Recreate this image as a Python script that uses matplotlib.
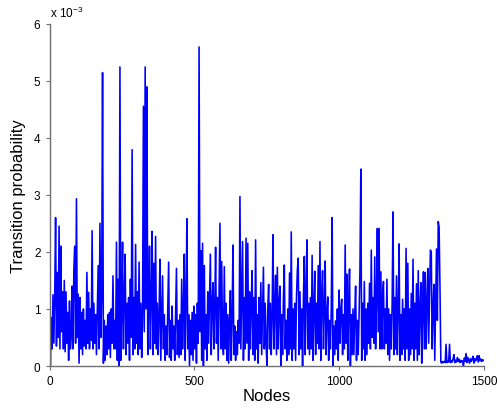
import numpy as np
import matplotlib
matplotlib.use('Agg')
import matplotlib.pyplot as plt

# transition probability per node, in units of 1e-3, read every 3rd node
prob_a = [  # nodes 0 - 447
    1.73, 0.0, 0.85, 0.3, 1.25, 0.4, 1.2, 2.6, 0.35, 1.64, 0.5, 2.45, 0.3, 2.1, 0.6, 1.3, 0.3, 1.5, 0.25, 1.3, 0.4, 0.94, 0.1, 1.14, 0.3,
    0.5, 1.4, 0.3, 1.7, 2.1, 0.4, 2.93, 0.5, 1.26, 0.05, 1.2, 0.3, 0.94, 0.2, 1.0, 0.35, 0.8, 0.3, 1.64, 0.4, 1.29, 0.3, 1.0, 0.45, 2.37,
    0.3, 1.1, 0.4, 0.9, 0.2, 1.0, 1.76, 0.3, 2.5, 0.5, 1.2, 5.14, 0.05, 0.8, 0.1, 0.7, 0.2, 0.9, 0.3, 0.94, 0.15, 1.0, 0.4, 1.58, 0.3,
    0.8, 0.3, 2.17, 0.1, 1.52, 0.0, 5.24, 0.1, 0.9, 2.17, 0.3, 1.2, 1.96, 0.2, 1.1, 0.4, 1.2, 0.1, 1.52, 0.5, 3.79, 0.2, 1.2, 0.3, 2.13,
    0.4, 1.3, 0.2, 1.82, 0.3, 1.1, 0.15, 0.9, 4.55, 0.6, 5.24, 1.0, 4.89, 0.2, 1.0, 2.1, 0.3, 1.2, 2.36, 0.2, 1.8, 0.4, 2.27, 0.3, 1.1,
    0.2, 0.9, 1.87, 0.1, 0.8, 1.58, 0.3, 0.9, 0.1, 0.7, 0.2, 1.0, 1.82, 0.15, 0.8, 0.1, 1.05, 0.3, 0.7, 0.1, 0.9, 1.71, 0.2, 0.8, 0.15,
]
prob_b = [  # nodes 450 - 897
    0.9, 0.2, 1.52, 0.3, 1.0, 1.96, 0.1, 1.1, 2.58, 0.3, 0.9, 0.0, 0.8, 0.2, 0.94, 0.1, 1.05, 0.3, 0.9, 0.05, 1.1, 0.4, 5.59, 0.6, 2.02,
    0.1, 2.15, 0.0, 1.76, 0.3, 0.9, 0.1, 1.3, 0.4, 1.2, 1.96, 0.2, 1.1, 1.46, 0.3, 1.0, 2.08, 0.4, 1.2, 0.1, 1.3, 2.5, 0.3, 1.83, 0.5,
    0.2, 1.74, 0.3, 1.1, 0.1, 0.9, 0.05, 0.8, 1.32, 0.1, 0.9, 2.12, 0.2, 0.7, 0.1, 0.6, 0.2, 0.8, 0.4, 2.97, 0.3, 1.3, 2.18, 0.1, 1.2,
    0.3, 2.24, 0.4, 2.15, 0.1, 1.3, 0.3, 1.1, 1.67, 0.2, 1.2, 0.1, 2.21, 0.3, 0.9, 0.05, 1.2, 0.4, 1.46, 0.2, 1.0, 1.73, 0.3, 1.1, 0.4,
    0.0, 1.0, 1.43, 0.3, 1.1, 0.2, 0.9, 2.3, 0.3, 1.0, 1.59, 0.2, 1.73, 0.3, 1.1, 1.4, 0.0, 0.9, 0.2, 1.2, 1.77, 0.3, 0.8, 0.1, 1.0,
    0.2, 1.63, 0.3, 2.35, 0.1, 1.0, 0.3, 1.1, 0.1, 1.2, 1.68, 1.89, 0.2, 1.3, 0.3, 1.0, 0.0, 1.2, 1.92, 0.2, 1.3, 2.21, 0.3, 1.1, 0.2,
]
prob_c = [  # nodes 900 - 1347
    1.2, 0.3, 1.94, 0.1, 1.0, 1.66, 0.2, 1.1, 0.4, 1.76, 0.3, 2.18, 0.1, 1.2, 1.67, 0.3, 1.0, 1.84, 0.2, 0.9, 1.21, 0.1, 0.8, 0.3, 1.0,
    2.6, 0.0, 0.7, 0.2, 0.79, 0.3, 1.0, 0.1, 1.33, 0.4, 1.0, 1.17, 0.2, 0.9, 0.3, 2.12, 0.4, 1.61, 0.1, 1.1, 1.7, 0.0, 0.9, 0.2, 1.0,
    0.2, 0.9, 1.4, 0.1, 0.8, 0.2, 0.9, 1.7, 3.45, 0.1, 1.1, 0.3, 1.48, 0.1, 1.0, 0.2, 1.1, 0.4, 1.45, 0.3, 2.03, 0.5, 1.2, 0.4, 1.91,
    0.3, 1.2, 2.41, 0.6, 2.41, 0.3, 1.65, 0.3, 1.2, 1.48, 0.3, 1.0, 0.4, 1.52, 0.2, 1.0, 0.1, 0.9, 0.3, 1.1, 2.7, 0.2, 1.2, 0.3, 1.58,
    0.2, 1.0, 2.14, 0.1, 0.9, 0.2, 1.17, 0.3, 1.0, 0.1, 2.06, 0.3, 1.8, 0.1, 1.0, 0.2, 1.27, 0.3, 1.87, 0.1, 1.1, 0.3, 1.44, 0.1, 1.67,
    0.2, 1.0, 1.46, 0.05, 1.0, 1.65, 0.3, 1.64, 0.3, 1.1, 1.71, 0.4, 1.2, 2.03, 2.0, 0.3, 1.0, 1.43, 0.1, 1.1, 2.05, 0.8, 2.53, 2.43, 1.38,
]
prob_tail = [  # nodes 1350 - 1497
    0.07, 0.05, 0.08, 0.06, 0.08, 0.06, 0.38, 0.06, 0.08, 0.07, 0.38, 0.06, 0.09, 0.07, 0.12, 0.2, 0.06, 0.1, 0.07, 0.15, 0.08, 0.12, 0.06, 0.1, 0.07,
    0.09, 0.0, 0.14, 0.08, 0.22, 0.06, 0.15, 0.1, 0.05, 0.13, 0.08, 0.12, 0.17, 0.05, 0.13, 0.09, 0.12, 0.18, 0.07, 0.18, 0.09, 0.12, 0.08, 0.11, 0.1,
]
node_step = 3
x_ticks = [0, 500, 1000, 1500]
y_ticks = [0, 1, 2, 3, 4, 5, 6]

plt.rcParams['font.family'] = ['Liberation Sans', 'DejaVu Sans']
plt.rcParams['mathtext.fontset'] = 'custom'
plt.rcParams['mathtext.rm'] = 'Liberation Sans'

prob = np.array(prob_a + prob_b + prob_c + prob_tail)
nodes = np.arange(len(prob)) * node_step

axis_gray = '#707070'

fig = plt.figure(figsize=(4.97, 4.14), dpi=100)
ax = fig.add_axes([0.0996, 0.1135, 0.8749, 0.8273])
ax.plot(nodes, prob, color='blue', linewidth=1.15)

ax.set_xlim(0, 1500)
ax.set_ylim(0, 6)
ax.set_xticks(x_ticks)
ax.set_yticks(y_ticks)
for side in ['top', 'right']:
    ax.spines[side].set_visible(False)
for side in ['left', 'bottom']:
    ax.spines[side].set_color(axis_gray)
    ax.spines[side].set_linewidth(1.0)
ax.tick_params(direction='out', length=3, color=axis_gray, labelsize=8.5, labelcolor='black')

ax.set_xlabel('Nodes', fontsize=12, labelpad=1)
ax.set_ylabel('Transition probability', fontsize=12, labelpad=6)
# matlab style exponent above the y axis
ax.text(0.0, 1.019, 'x 10$^{-3}$', transform=ax.transAxes, fontsize=8.5, va='baseline', ha='left')

fig.savefig('out.png', dpi=100)
plt.close(fig)
